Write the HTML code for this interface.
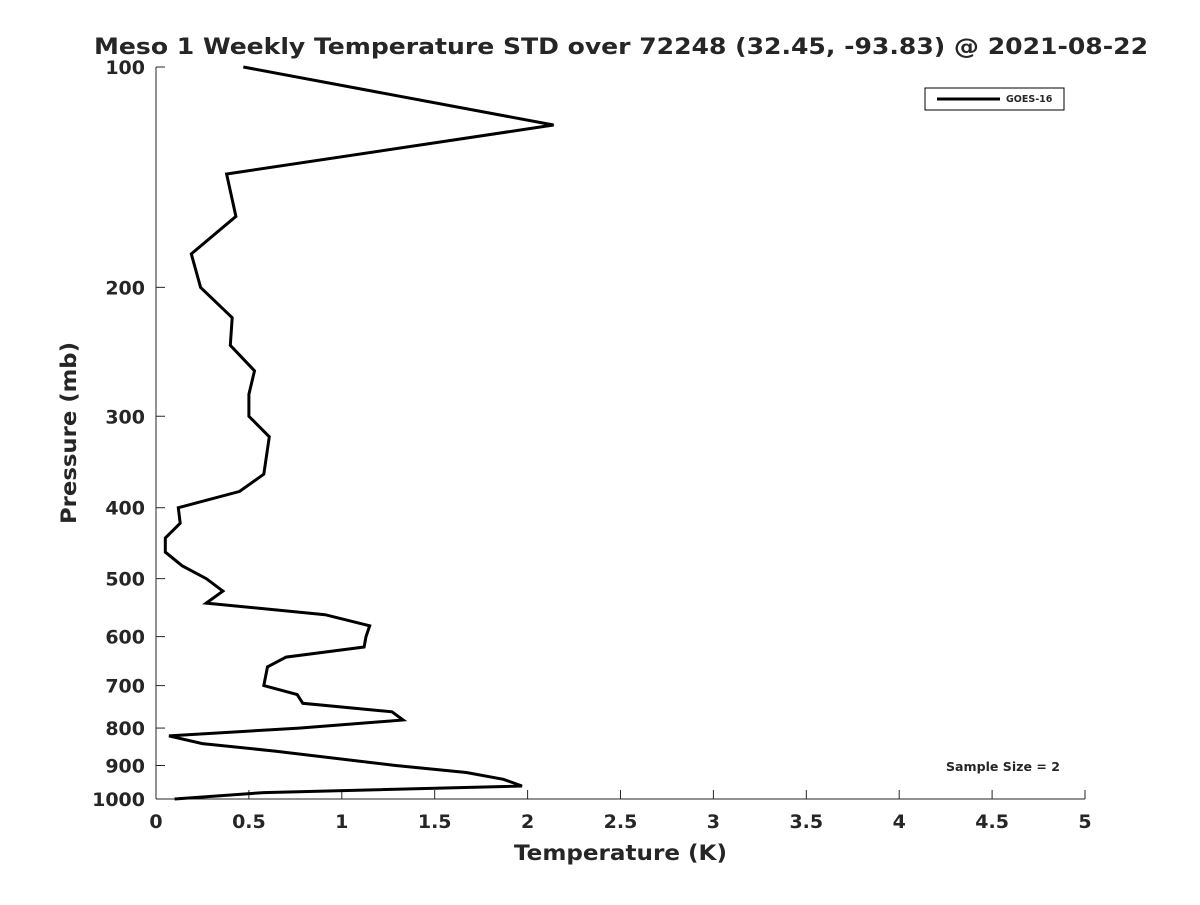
<!DOCTYPE html>
<html><head><meta charset="utf-8"><style>
body{margin:0;background:#fff;}
svg text{font-family:"DejaVu Sans","Liberation Sans",sans-serif;font-weight:bold;fill:#262626;}
</style></head><body>
<svg id="chart" width="1200" height="900" viewBox="0 0 1200 900" xmlns="http://www.w3.org/2000/svg">
<rect width="1200" height="900" fill="#fff"/>
<text x="94" y="54" font-size="22" textLength="1054" lengthAdjust="spacingAndGlyphs">Meso 1 Weekly Temperature STD over 72248 (32.45, -93.83) @ 2021-08-22</text>
<g id="axes"></g>
<path id="line" fill="none" stroke="#000" stroke-width="3" stroke-linejoin="miter"/>
<g>
<rect x="925" y="88" width="139" height="22" fill="#fff" stroke="#000" stroke-width="1"/>
<line x1="937" y1="99" x2="1000" y2="99" stroke="#000" stroke-width="3"/>
<text x="1006" y="102" font-size="9.5">GOES-16</text>
</g>
<text x="946" y="771" font-size="12" textLength="114" lengthAdjust="spacingAndGlyphs">Sample Size = 2</text>
<text x="514" y="860" font-size="21" textLength="213" lengthAdjust="spacingAndGlyphs">Temperature (K)</text>
<text x="76" y="433" text-anchor="middle" font-size="21" textLength="182" lengthAdjust="spacingAndGlyphs" transform="rotate(-90 76 433)">Pressure (mb)</text>
</svg>
<script>
const pressures=[100,120,140,160,180,200,220,240,260,280,300,320,360,380,400,420,440,460,480,500,520,540,560,580,600,620,640,660,700,720,740,760,780,800,820,840,860,900,920,940,960,980,1000];
const stdValues=[0.47,2.14,0.38,0.43,0.19,0.24,0.41,0.40,0.53,0.50,0.50,0.61,0.58,0.45,0.12,0.13,0.05,0.05,0.14,0.27,0.36,0.27,0.91,1.15,1.13,1.12,0.70,0.60,0.58,0.76,0.79,1.27,1.33,0.77,0.07,0.25,0.64,1.29,1.67,1.87,1.97,0.58,0.10];
const xTicks=[0,0.5,1,1.5,2,2.5,3,3.5,4,4.5,5];
const xTickLabels=["0","0.5","1","1.5","2","2.5","3","3.5","4","4.5","5"];
const yTicks=[100,200,300,400,500,600,700,800,900,1000];
const X0=156,X1=1085,Y0=67,Y1=799;
const xs=v=>X0+(v-0)/(5-0)*(X1-X0);
const ys=p=>Y0+(Math.log10(p)-2)/(1)*(Y1-Y0);
const NS="http://www.w3.org/2000/svg";
const ax=document.getElementById('axes');
function mk(t,a){const e=document.createElementNS(NS,t);for(const k in a)e.setAttribute(k,a[k]);return e;}
const xl=mk('line',{x1:X0,y1:Y1,x2:X1,y2:Y1,stroke:'#262626','stroke-width':1});


ax.appendChild(xl);
const yl=mk('line',{x1:X0,y1:Y0,x2:X0,y2:Y1,stroke:'#262626','stroke-width':1});


ax.appendChild(yl);
xTicks.forEach((v,i)=>{
 const x=xs(v);
 const t=mk('line',{x1:x,y1:Y1,x2:x,y2:Y1-9,stroke:'#262626','stroke-width':1});
 
 
 ax.appendChild(t);
 const l=mk('text',{x:x,y:Y1+29,'text-anchor':'middle','font-size':19});
 
 
 l.textContent=xTickLabels[i];ax.appendChild(l);
});
yTicks.forEach(p=>{
 const y=ys(p);
 const t=mk('line',{x1:X0,y1:y,x2:X0+9,y2:y,stroke:'#262626','stroke-width':1});
 
 
 ax.appendChild(t);
 const l=mk('text',{x:X0-11,y:y+7,'text-anchor':'end','font-size':19});
 
 
 l.textContent=String(p);ax.appendChild(l);
});
document.getElementById('line').setAttribute('d',pressures.map((p,i)=>(i?'L':'M')+xs(stdValues[i]).toFixed(1)+','+ys(p).toFixed(1)).join(' '));
</script>
</body></html>
